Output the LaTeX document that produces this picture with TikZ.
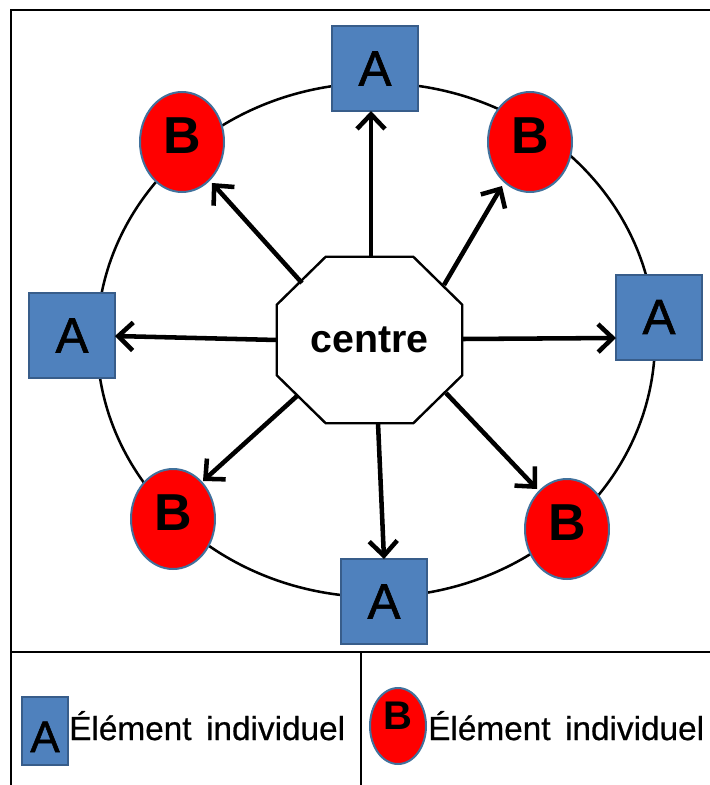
\documentclass[tikz,border=0pt]{standalone}
\usepackage{fontspec}
\setmainfont{Liberation Sans}
\usetikzlibrary{shapes.geometric,arrows.meta,calc}
\definecolor{ablue}{HTML}{4F81BD}
\definecolor{aedge}{HTML}{385D8A}
\definecolor{bred}{HTML}{FF0000}
\definecolor{bedge}{HTML}{41719C}
\begin{document}
\begin{tikzpicture}[x=0.75pt,y=-0.75pt,
  asq/.style={rectangle, fill=ablue, draw=aedge, line width=1.5pt, minimum width=64.5pt, minimum height=63.75pt, inner sep=0pt, font=\fontsize{37}{37}\selectfont\addfontfeature{FakeBold=1.2}},
  bel/.style={ellipse, fill=bred, draw=bedge, line width=1.5pt, minimum width=63pt, minimum height=75pt, inner sep=0pt, text depth=9pt, font=\fontsize{39}{39}\selectfont\bfseries},
  lsq/.style={rectangle, fill=ablue, draw=aedge, line width=1.2pt, minimum width=34.5pt, minimum height=51pt, inner sep=0pt, text height=31.5pt, font=\fontsize{33}{33}\selectfont\addfontfeature{FakeBold=1.2}},
  lel/.style={ellipse, fill=bred, draw=bedge, line width=1.5pt, minimum width=42pt, minimum height=57pt, inner sep=0pt, text depth=15pt, font=\fontsize{30}{30}\selectfont\bfseries},
  cbox/.style={rectangle, minimum width=138.75pt, minimum height=124.5pt, inner sep=0pt, font=\fontsize{29.5}{29.5}\selectfont\bfseries},
  ringst/.style={ellipse, draw, line width=1.9pt, minimum width=418.5pt, minimum height=385.5pt, inner sep=0pt},
  arr/.style={line width=3.4pt, -{Straight Barb[length=11pt,width=21pt]}},
  frame/.style={line width=2.2pt},
  oct/.style={line width=1.8pt, line join=miter},
  leg/.style={font=\fontsize{25}{25}\selectfont\addfontfeature{FakeBold=0.6}, anchor=base west, inner sep=0pt}
]
\useasboundingbox (0,0) rectangle (710,785);
% frame and legend grid
\draw[frame] (11,795) -- (11,10) -- (720,10);
\draw[frame] (11,652) -- (720,652);
\draw[line width=1.5pt] (361,652) -- (361,795);
% ring
\node[ringst] (ring) at (376,340) {};
% elements
\node[asq] (a1) at (375,68.5) {A};
\node[asq] (a2) at (659,317) {A};
\node[asq] (a3) at (384,601.5) {A};
\node[asq] (a4) at (72,335.5) {A};
\node[bel] (b1) at (182,142) {B};
\node[bel] (b2) at (530,142) {B};
\node[bel] (b3) at (173,519) {B};
\node[bel] (b4) at (567,529) {B};
% centre octagon
\node[cbox] (c) at (369.5,340) {centre};
\draw[oct] ([xshift=36.75pt]c.north west) -- ([xshift=-36.75pt]c.north east)
  -- ([yshift=-36pt]c.north east) -- ([yshift=36pt]c.south east)
  -- ([xshift=-36.75pt]c.south east) -- ([xshift=36.75pt]c.south west)
  -- ([yshift=36pt]c.south west) -- ([yshift=-36pt]c.north west) -- cycle;
% arrows
\draw[arr] ($(c)+(1.5,-83)$) -- ($(a1)+(-4,42.5)$);
\draw[arr] ($(c)+(92.5,-1)$) -- ($(a2)+(-43,21)$);
\draw[arr] ($(c)+(8.5,83)$) -- ($(a3)+(0,-42.5)$);
\draw[arr] ($(c)+(-92.5,0)$) -- ($(a4)+(43,0.5)$);
\draw[arr] ($(c)+(-67.5,-57)$) -- ($(b1)+(30,41)$);
\draw[arr] ($(c)+(74.5,-55)$) -- ($(b2)+(-28,44)$);
\draw[arr] ($(c)+(-72.5,56)$) -- ($(b3)+(30,-38)$);
\draw[arr] ($(c)+(76.5,53)$) -- ($(b4)+(-30,-40)$);
% legend
\node[lsq] (la) at (45,731) {A\hspace{6pt}};
\node[leg] (lt1) at (69,740) {Élément\hspace{4pt} individuel};
\node[lel] (lb) at (398,726) {B};
\node[leg] (lt2) at (428,740) {Élément\hspace{4pt} individuel};
\end{tikzpicture}
\end{document}
